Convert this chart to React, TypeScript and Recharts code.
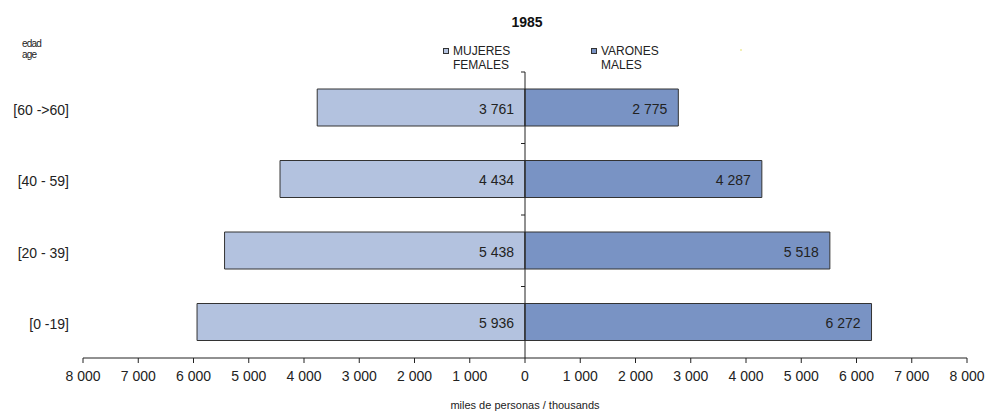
import {
  Bar,
  BarChart,
  XAxis,
  YAxis,
  ReferenceLine,
  LabelList,
  Label,
} from "recharts";

const ageGroups = ["[60 ->60]", "[40 - 59]", "[20 - 39]", "[0 -19]"];
const females = [3761, 4434, 5438, 5936];
const males = [2775, 4287, 5518, 6272];
const xTicks = [
  -8000, -7000, -6000, -5000, -4000, -3000, -2000, -1000, 0, 1000, 2000, 3000,
  4000, 5000, 6000, 7000, 8000,
];

const FONT = "'Liberation Sans', Arial, sans-serif";
const FEMALE_COLOR = "#b3c2df";
const MALE_COLOR = "#7993c4";

const fmt = (v: number) =>
  String(Math.abs(Math.round(v))).replace(/\B(?=(\d{3})+(?!\d))/g, " ");

const data = ageGroups.map((age, i) => ({
  age,
  mujeres: -females[i],
  varones: males[i],
}));

// value label sits just inside the right end of each bar
const ValueLabel = (props: any) => {
  const { x, y, width, height, value } = props;
  const right = Math.max(x, x + width);
  return (
    <text
      x={right - 11}
      y={y + height / 2 + 1}
      textAnchor="end"
      dominantBaseline="central"
      fontSize={14}
      fill="#222"
      fontFamily={FONT}
    >
      {fmt(value)}
    </text>
  );
};

// center axis with small ticks at the category boundaries
const CenterAxis = (props: any) => {
  const { x1, y1, y2 } = props;
  const top = Math.min(y1, y2);
  const bottom = Math.max(y1, y2);
  const band = (bottom - top) / ageGroups.length;
  return (
    <g>
      <line x1={x1} x2={x1} y1={top} y2={bottom} stroke="#222" strokeWidth={1} />
      {ageGroups.map((g, i) => (
        <line
          key={g}
          x1={x1 - 4}
          x2={x1}
          y1={top + i * band}
          y2={top + i * band}
          stroke="#222"
          strokeWidth={1}
        />
      ))}
    </g>
  );
};

const LegendItem = ({ color, l1, l2, left }: any) => (
  <div
    style={{
      position: "absolute",
      left,
      top: 44,
      fontSize: 12,
      lineHeight: "14px",
      color: "#222",
    }}
  >
    <div
      style={{
        position: "absolute",
        left: 0,
        top: 4,
        width: 4,
        height: 4,
        background: color,
        border: "1px solid #333",
      }}
    />
    <div style={{ marginLeft: 10, whiteSpace: "nowrap" }}>
      {l1}
      <br />
      {l2}
    </div>
  </div>
);

export default function App() {
  return (
    <div
      style={{
        position: "absolute",
        left: 0,
        top: 0,
        width: 987,
        height: 412,
        background: "#fff",
        fontFamily: FONT,
      }}
    >
      <div
        style={{
          position: "absolute",
          left: 0,
          width: 1054,
          top: 14,
          lineHeight: "16px",
          textAlign: "center",
          fontSize: 14,
          fontWeight: "bold",
          color: "#111",
        }}
      >
        1985
      </div>
      <div
        style={{
          position: "absolute",
          left: 22,
          top: 38,
          fontSize: 10,
          lineHeight: "11px",
          letterSpacing: -0.8,
          color: "#222",
        }}
      >
        edad
        <br />
        age
      </div>
      <LegendItem color={FEMALE_COLOR} l1="MUJERES" l2="FEMALES" left={443} />
      <LegendItem color={MALE_COLOR} l1="VARONES" l2="MALES" left={591} />
      <div
        style={{
          position: "absolute",
          left: 740,
          top: 49,
          width: 2,
          height: 2,
          background: "#f3efb5",
        }}
      />
      <BarChart
        width={987}
        height={412}
        data={data}
        layout="vertical"
        stackOffset="sign"
        margin={{ top: 72, right: 20, bottom: 0, left: 0 }}
      >
        <XAxis
          type="number"
          domain={[-8000, 8000]}
          ticks={xTicks}
          interval={0}
          tickFormatter={fmt}
          tickSize={5}
          tickMargin={8}
          height={54}
          axisLine={{ stroke: "#222" }}
          tickLine={{ stroke: "#222" }}
          tick={{ fill: "#222", fontSize: 14, fontFamily: FONT }}
          allowDataOverflow
        >
          <Label
            value="miles de personas / thousands"
            position="insideBottom"
            offset={3}
            style={{ fontSize: 11, fill: "#222", fontFamily: FONT }}
          />
        </XAxis>
        <YAxis
          type="category"
          dataKey="age"
          width={83}
          axisLine={false}
          tickLine={false}
          tickMargin={8}
          tick={{ fill: "#222", fontSize: 14, fontFamily: FONT, dy: 2 }}
        />
        <Bar
          dataKey="mujeres"
          stackId="p"
          fill={FEMALE_COLOR}
          stroke="#333"
          strokeWidth={1}
          barSize={37}
          isAnimationActive={false}
        >
          <LabelList dataKey="mujeres" content={ValueLabel} />
        </Bar>
        <Bar
          dataKey="varones"
          stackId="p"
          fill={MALE_COLOR}
          stroke="#333"
          strokeWidth={1}
          barSize={37}
          isAnimationActive={false}
        >
          <LabelList dataKey="varones" content={ValueLabel} />
        </Bar>
        <ReferenceLine x={0} shape={CenterAxis} />
      </BarChart>
    </div>
  );
}
